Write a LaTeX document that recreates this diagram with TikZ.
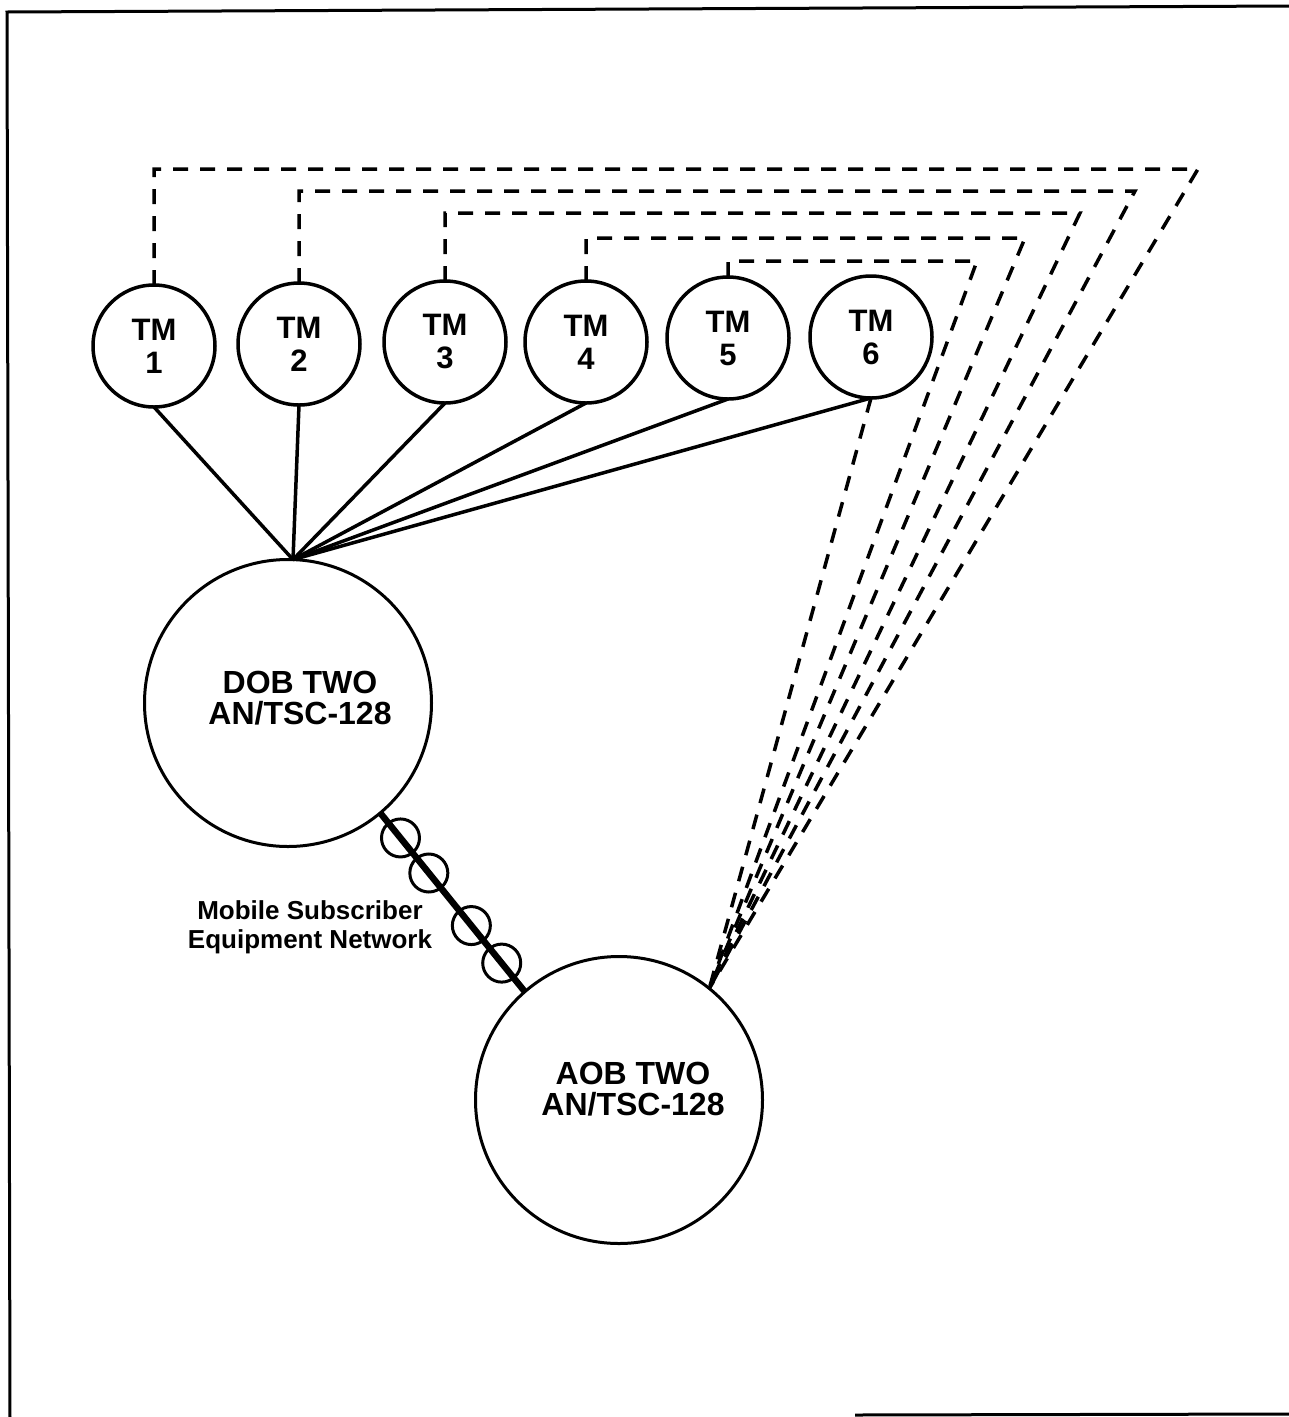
\documentclass[tikz,border=0pt]{standalone}
\usepackage{fontspec}
\setmainfont{Liberation Sans}
\begin{document}
\begin{tikzpicture}[x=1pt,y=-1pt,
  tm/.style={circle,draw,line width=3.5pt,minimum size=122pt,inner sep=0pt,outer sep=0pt,align=center,font=\fontsize{31}{33}\selectfont\bfseries},
  big/.style={circle,draw,line width=3pt,minimum size=287pt,inner sep=0pt,outer sep=0pt},
  bigtext/.style={align=center,font=\fontsize{32}{31}\selectfont\bfseries},
  labeltext/.style={align=center,font=\fontsize{26}{29}\selectfont\bfseries},
  dashline/.style={line width=3.5pt,dash pattern=on 15pt off 12pt},
  solidline/.style={line width=3.5pt},
  linkline/.style={line width=6.5pt},
  bead/.style={circle,draw,line width=3pt,minimum size=38pt,inner sep=0pt},
  framel/.style={line width=3pt}]
\useasboundingbox (0,0) rectangle (1289,1417);
% frame
\draw[framel] (1289,6) -- (7,12) -- (10,1417);
\draw[framel] (855,1415) -- (1289,1414);
% TM nodes
\node[tm] (tm1) at (154,346) {TM\\1};
\node[tm] (tm2) at (299,344) {TM\\2};
\node[tm] (tm3) at (445,342) {TM\\3};
\node[tm] (tm4) at (586,342) {TM\\4};
\node[tm] (tm5) at (728,338) {TM\\5};
\node[tm] (tm6) at (871,337) {TM\\6};
% big nodes
\node[big] (dob) at (288,703) {};
\node[bigtext] (dobt) at (300,698) {DOB TWO\\AN/TSC-128};
\node[big] (aob) at (619,1100) {};
\node[bigtext] (aobt) at (633,1089) {AOB TWO\\AN/TSC-128};
% solid lines
\foreach \i in {1,...,6} \draw[solidline] (tm\i.south) -- (dob.88);
% dashed lines
\coordinate (c1) at (1198,169);
\coordinate (c2) at (1135,191);
\coordinate (c3) at (1080,213);
\coordinate (c4) at (1025,238);
\coordinate (c5) at (977,261);
\coordinate (d) at (aob.51);
\draw[dashline] (tm1.north) |- (c1) -- (d);
\draw[dashline] (tm2.north) |- (c2) -- (d);
\draw[dashline] (tm3.north) |- (c3) -- (d);
\draw[dashline] (tm4.north) |- (c4) -- (d);
\draw[dashline] (tm5.north) |- (c5) -- (d);
\draw[dashline] (tm6.south) -- (d);
% MSE link
\draw[linkline] (dob.-50) -- (aob.131.6)
  node[bead,pos=0.14] (b1) {}
  node[bead,pos=0.336] (b2) {}
  node[bead,pos=0.63] (b3) {}
  node[bead,pos=0.84] (b4) {};
\node[labeltext] (msen) at (310,927) {Mobile Subscriber\\Equipment Network};
\end{tikzpicture}
\end{document}
